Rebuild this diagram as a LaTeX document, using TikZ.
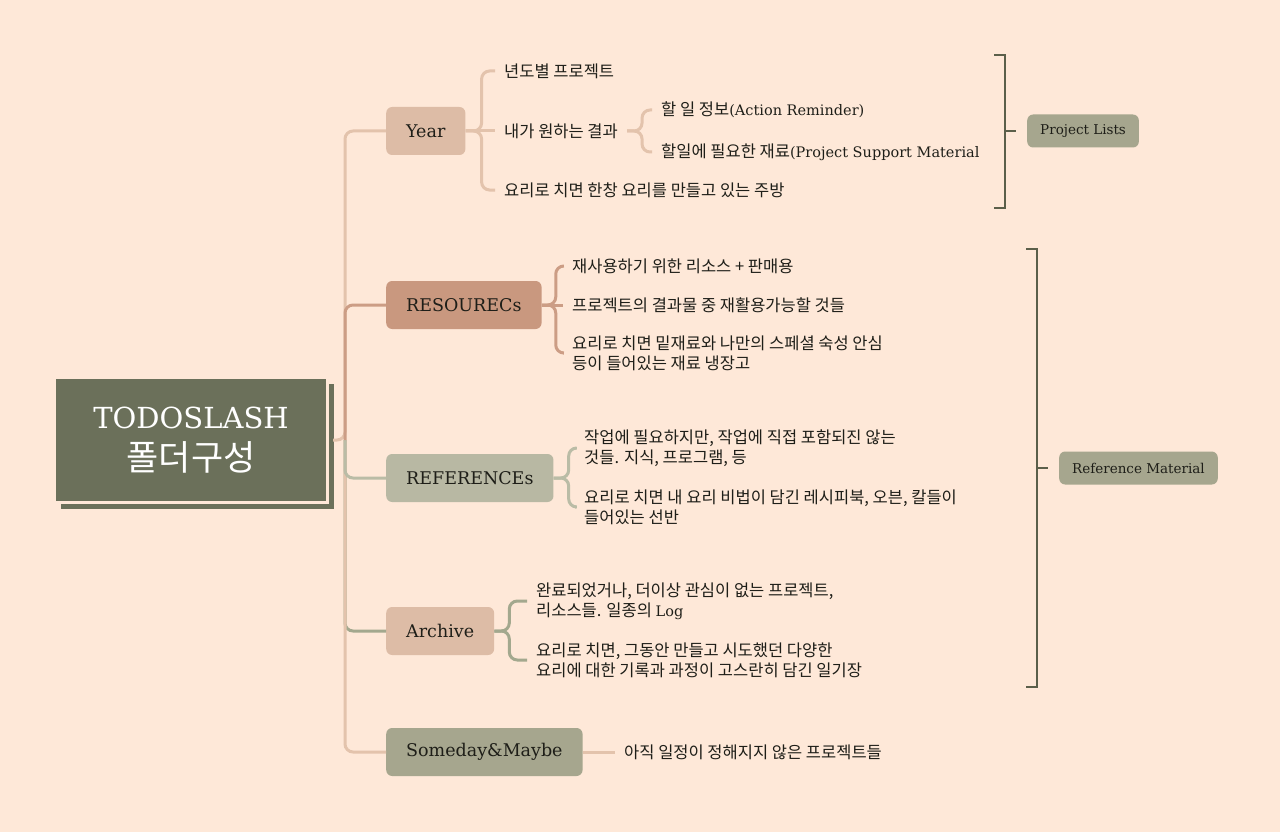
\documentclass[tikz,border=0pt]{standalone}
\usepackage{fontspec}
\usepackage{xcolor}
\usepackage{tikz}
\usetikzlibrary{shadows}
\setmainfont{DejaVu Serif}
\newfontfamily\kr{Noto Sans CJK KR}
\definecolor{peach}{HTML}{FEE8D8}
\definecolor{olive}{HTML}{6B705A}
\definecolor{darkolive}{HTML}{5B5F4A}
\definecolor{tanbox}{HTML}{DDBCA6}
\definecolor{tanline}{HTML}{E3C3AC}
\definecolor{rust}{HTML}{C9987F}
\definecolor{rustline}{HTML}{CC9D85}
\definecolor{greige}{HTML}{B8B8A3}
\definecolor{greigeline}{HTML}{BABCA6}
\definecolor{sage}{HTML}{A6A68E}
\definecolor{sageline}{HTML}{A3A88E}
\definecolor{ink}{HTML}{1E1E18}
\newcommand{\lat}[1]{{\rmfamily\fontsize{14.5}{20}\selectfont #1}}
\tikzset{
  branchbox/.style={anchor=west, fill=#1, rounded corners=6pt, minimum height=48pt,
    inner xsep=20pt, font=\fontsize{17.5}{20}\selectfont, text=ink},
  leaftext/.style={anchor=west, inner xsep=9pt, inner ysep=1pt, align=left,
    font=\kr\fontsize{16.5}{20}\selectfont, text=ink},
  tagbox/.style={anchor=west, fill=sage, rounded corners=6pt, minimum height=33pt,
    inner xsep=13pt, font=\fontsize{13.5}{16}\selectfont, text=ink},
  linkline/.style={draw=#1, line width=3pt, rounded corners=8pt},
  groupline/.style={draw=darkolive, line width=2.5pt}
}
\begin{document}
\begin{tikzpicture}[x=1pt, y=-1pt]
\useasboundingbox (0,0) rectangle (1280,832);
\fill[peach] (0,0) rectangle (1280,832);

\node (root) [fill=olive, draw=peach, line width=3pt, minimum width=273pt, minimum height=125pt,
  general shadow={fill=olive, shadow xshift=6pt, shadow yshift=-6pt}, align=center, text=white]
  at (191,440) {{\fontsize{29}{34}\selectfont TODOSLASH}\\[12pt]{\kr\fontsize{35}{36}\selectfont 폴더구성}};
\coordinate (hub) at (345,440);

\node (year) [branchbox=tanbox] at (386,131) {Year};
\node (res) [branchbox=rust] at (386,305) {RESOURECs};
\node (ref) [branchbox=greige] at (386,478) {REFERENCEs};
\node (arch) [branchbox=tanbox] at (386,631) {Archive};
\node (some) [branchbox=sage] at (386,752) {Someday\&Maybe};

\node (yr1) [leaftext] at (495,71) {년도별 프로젝트};
\node (yr2) [leaftext] at (495,131) {내가 원하는 결과};
\node (yr3) [leaftext] at (495,190) {요리로 치면 한창 요리를 만들고 있는 주방};
\node (yr21) [leaftext] at (652,110) {할 일 정보\lat{(Action Reminder)}};
\node (yr22) [leaftext] at (652,152) {할일에 필요한 재료\lat{(Project Support Material}};

\node (rs1) [leaftext] at (563,266) {재사용하기 위한 리소스 + 판매용};
\node (rs2) [leaftext] at (563,305) {프로젝트의 결과물 중 재활용가능할 것들};
\node (rs3) [leaftext] at (563,353) {요리로 치면 밑재료와 나만의 스페셜 숙성 안심\\등이 들어있는 재료 냉장고};

\node (rf1) [leaftext] at (575,448) {작업에 필요하지만, 작업에 직접 포함되진 않는\\것들. 지식, 프로그램, 등};
\node (rf2) [leaftext] at (575,507) {요리로 치면 내 요리 비법이 담긴 레시피북, 오븐, 칼들이\\들어있는 선반};

\node (ar1) [leaftext] at (527,601) {완료되었거나, 더이상 관심이 없는 프로젝트,\\리소스들. 일종의 \lat{Log}};
\node (ar2) [leaftext] at (527,660) {요리로 치면, 그동안 만들고 시도했던 다양한\\요리에 대한 기록과 과정이 고스란히 담긴 일기장};

\node (sm1) [leaftext] at (615,752) {아직 일정이 정해지지 않은 프로젝트들};

\node (plist) [tagbox] at (1027,131) {Project Lists};
\node (rmat) [tagbox] at (1059,468) {Reference Material};
\coordinate (pltop) at (1005,55);
\coordinate (plbot) at (1005,208);
\coordinate (plmid) at (1005,131);
\coordinate (rmtop) at (1037,249);
\coordinate (rmbot) at (1037,687);
\coordinate (rmmid) at (1037,468);

\draw[linkline=tanline, shorten <=4pt] (root.east) -- (hub) |- (year.west);
\draw[linkline=sageline] (hub) |- (arch.west);
\draw[linkline=tanline] (hub) |- (some.west);
\draw[linkline=greigeline] (hub) |- (ref.west);
\draw[linkline=rustline] (hub) |- (res.west);

\draw[linkline=tanline] (year.east) -- ++(16,0) |- (yr1.west);
\draw[linkline=tanline] (year.east) -- (yr2.west);
\draw[linkline=tanline] (year.east) -- ++(16,0) |- (yr3.west);
\draw[linkline=tanline] (yr2.east) -- ++(15,0) |- (yr21.west);
\draw[linkline=tanline] (yr2.east) -- ++(15,0) |- (yr22.west);

\draw[linkline=rustline] (res.east) -- ++(14,0) |- (rs1.west);
\draw[linkline=rustline] (res.east) -- (rs2.west);
\draw[linkline=rustline] (res.east) -- ++(14,0) |- (rs3.west);

\draw[linkline=greigeline] (ref.east) -- ++(15,0) |- (rf1.west);
\draw[linkline=greigeline] (ref.east) -- ++(15,0) |- (rf2.west);

\draw[linkline=sageline] (arch.east) -- ++(15,0) |- (ar1.west);
\draw[linkline=sageline] (arch.east) -- ++(15,0) |- (ar2.west);

\draw[linkline=tanline] (some.east) -- (sm1.west);

\draw[groupline] (pltop) ++(-11,0) -- (pltop) -- (plbot) -- ++(-11,0);
\draw[groupline, shorten >=11pt] (plmid) -- (plist.west);
\draw[groupline] (rmtop) ++(-11,0) -- (rmtop) -- (rmbot) -- ++(-11,0);
\draw[groupline, shorten >=11pt] (rmmid) -- (rmat.west);
\end{tikzpicture}
\end{document}
